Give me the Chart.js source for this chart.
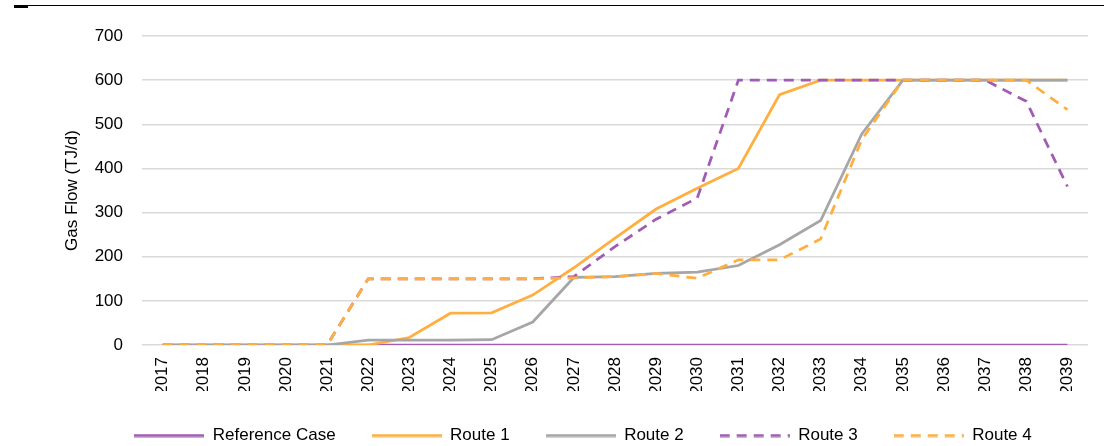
<!DOCTYPE html>
<html>
<head>
<meta charset="utf-8">
<title>Gas Flow</title>
<script src="https://cdn.jsdelivr.net/npm/chart.js@4"></script>
<style>
    body { margin: 0; background: #fff; }
    #wrap { position: relative; width: 1104px; height: 446px; }
    #topRule { position: absolute; left: 14px; right: 0; top: 5px; height: 0; border-top: 1.5px solid #000; }
    #topTab { position: absolute; left: 14px; width: 14px; top: 5px; height: 3px; background: #000; }
</style>
</head>
<body>
<div id="wrap">
    <div id="topRule"></div>
    <div id="topTab"></div>
    <canvas id="gasFlowChart" width="1104" height="446"></canvas>
</div>
<script>
const years = ['2017', '2018', '2019', '2020', '2021', '2022', '2023', '2024', '2025', '2026', '2027', '2028',
    '2029', '2030', '2031', '2032', '2033', '2034', '2035', '2036', '2037', '2038', '2039'];

// Gas flow in TJ/d
const referenceCase = [0, 0, 0, 0, 0, 0, 0, 0, 0, 0, 0, 0, 0, 0, 0, 0, 0, 0, 0, 0, 0, 0, 0];
const route1 = [0, 0, 0, 0, 0, 0, 17, 72, 73, 113, 175, 242, 308, 355, 400, 567, 600, 600, 600, 600, 600, 600, 600];
const route2 = [0, 0, 0, 0, 0, 11, 11, 11, 12, 52, 153, 155, 162, 165, 180, 227, 282, 478, 600, 600, 600, 600, 600];
const route3 = [0, 0, 0, 0, 0, 150, 150, 150, 150, 150, 155, 223, 285, 333, 600, 600, 600, 600, 600, 600, 600, 552, 359];
const route4 = [0, 0, 0, 0, 0, 150, 150, 150, 150, 150, 152, 155, 162, 151, 193, 193, 240, 465, 600, 600, 600, 600, 533];

const yTicks = [0, 100, 200, 300, 400, 500, 600, 700];

const PURPLE = '#A05CB5';
const ORANGE = '#FFAF40';
const GREY = '#A6A6A6';
const DASH = [10, 7];
const LINE_WIDTH = 2.75;

const LEGEND_SHIFT = 8; // Chart.js centres the legend a little left of the original
const SWATCH_WIDTH = 70;

const fontFamily = '"Liberation Sans", Arial, sans-serif';

// Legend swatch: a short solid or dashed stroke drawn on a tiny canvas,
// used as the dataset's point style (points themselves are hidden)
function makeSwatch(color, dashed) {
    const c = document.createElement('canvas');
    c.width = SWATCH_WIDTH;
    c.height = 4;
    const g = c.getContext('2d');
    g.strokeStyle = color;
    g.lineWidth = 3;
    g.setLineDash(dashed ? DASH : []);
    g.beginPath();
    g.moveTo(0, 2);
    g.lineTo(SWATCH_WIDTH, 2);
    g.stroke();
    return c;
}

function makeLine(label, data, color, dashed, order) {
    return {
        label: label,
        data: data,
        borderColor: color,
        backgroundColor: color,
        borderWidth: LINE_WIDTH,
        borderDash: dashed ? DASH : [],
        pointRadius: 0,
        pointHoverRadius: 0,
        pointStyle: makeSwatch(color, dashed),
        tension: 0,
        fill: false,
        order: order // higher order is drawn underneath
    };
}

const legendShift = {
    id: 'legendShift',
    afterLayout(chart) {
        if (chart.legend) {
            chart.legend.left += LEGEND_SHIFT;
            chart.legend.right += LEGEND_SHIFT;
        }
    }
};

function init() {
    const ctx = document.getElementById('gasFlowChart').getContext('2d');

    new Chart(ctx, {
        type: 'line',
        data: {
            labels: years,
            datasets: [
                makeLine('Reference Case', referenceCase, PURPLE, false, 5),
                makeLine('Route 1', route1, ORANGE, false, 4),
                makeLine('Route 2', route2, GREY, false, 3),
                makeLine('Route 3', route3, PURPLE, true, 2),
                makeLine('Route 4', route4, ORANGE, true, 1)
            ]
        },
        options: {
            responsive: false,
            animation: false,
            layout: {
                padding: { left: 62, right: 16, top: 36, bottom: 0 }
            },
            scales: {
                x: {
                    offset: true,
                    grid: { display: false, drawTicks: false },
                    border: { display: false },
                    ticks: {
                        color: '#000',
                        font: { family: fontFamily, size: 17 },
                        minRotation: 90,
                        maxRotation: 90,
                        autoSkip: false,
                        padding: 12
                    },
                    afterFit(scale) {
                        scale.height = 46;
                    }
                },
                y: {
                    min: 0,
                    max: 700,
                    grid: { color: '#D9D9D9', lineWidth: 1.5, drawTicks: false },
                    border: { display: false },
                    ticks: {
                        color: '#000',
                        font: { family: fontFamily, size: 17 },
                        padding: 19,
                        stepSize: 100
                    },
                    afterBuildTicks(scale) {
                        scale.ticks = yTicks.map(v => ({ value: v }));
                    },
                    title: {
                        display: true,
                        text: 'Gas Flow (TJ/d)',
                        color: '#000',
                        font: { family: fontFamily, size: 17 },
                        padding: 0
                    },
                    afterFit(scale) {
                        scale.width = 80;
                    }
                }
            },
            plugins: {
                legend: {
                    display: true,
                    position: 'bottom',
                    maxHeight: 55,
                    labels: {
                        usePointStyle: true,
                        pointStyleWidth: SWATCH_WIDTH,
                        padding: 36,
                        color: '#000',
                        font: { family: fontFamily, size: 17 },
                        sort: (a, b) => a.datasetIndex - b.datasetIndex
                    }
                },
                tooltip: { enabled: false }
            }
        },
        plugins: [legendShift]
    });
}

window.addEventListener('load', init);
</script>
</body>
</html>
